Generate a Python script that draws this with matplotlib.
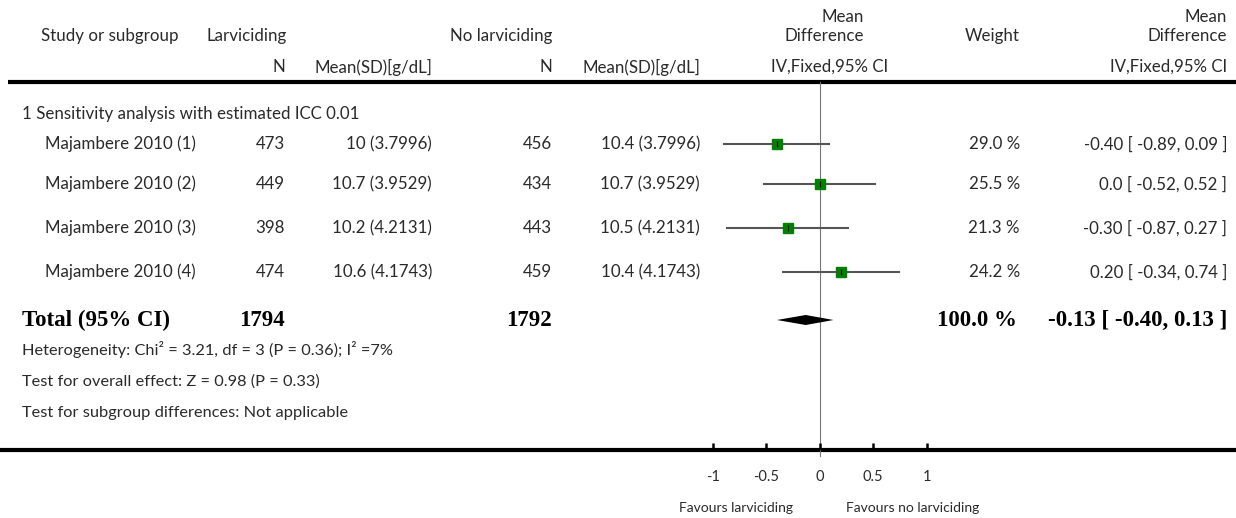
"""
Forest plot: larviciding vs no larviciding, mean difference in haemoglobin
"""

import matplotlib.pyplot as plt
import numpy as np

# data
studies = ['Majambere 2010 (1)', 'Majambere 2010 (2)', 'Majambere 2010 (3)', 'Majambere 2010 (4)']
n_larv = [473, 449, 398, 474]
msd_larv = ['10 (3.7996)', '10.7 (3.9529)', '10.2 (4.2131)', '10.6 (4.1743)']
n_ctrl = [456, 434, 443, 459]
msd_ctrl = ['10.4 (3.7996)', '10.7 (3.9529)', '10.5 (4.2131)', '10.4 (4.1743)']
md = [-0.40, 0.0, -0.30, 0.20]
ci_low = [-0.89, -0.52, -0.87, -0.34]
ci_high = [0.09, 0.52, 0.27, 0.74]
weights = [29.0, 25.5, 21.3, 24.2]
md_labels = ['-0.40 [ -0.89, 0.09 ]', '0.0 [ -0.52, 0.52 ]', '-0.30 [ -0.87, 0.27 ]', '0.20 [ -0.34, 0.74 ]']

total_n_larv = 1794
total_n_ctrl = 1792
total_md = -0.13
total_low = -0.40
total_high = 0.13
total_label = '-0.13 [ -0.40, 0.13 ]'

subgroup = '1 Sensitivity analysis with estimated ICC 0.01'
footnotes = ['Heterogeneity: Chi² = 3.21, df = 3 (P = 0.36); I² =7%',
             'Test for overall effect: Z = 0.98 (P = 0.33)',
             'Test for subgroup differences: Not applicable']
ticks = [-1, -0.5, 0, 0.5, 1]
tick_labels = ['-1', '-0.5', '0', '0.5', '1']

# layout (pixels)
W, H = 1236, 518
row_y = [144, 184, 228, 272]
total_y = 320
foot_y = [350, 382, 413]
top_line_y = 82
bot_line_y = 450
zero_px = 819.6
unit_px = 107.0

FONT = 'Lato'
SERIF = 'Liberation Serif'
TXT = '#2a2a2a'
fs = 12.2

fig = plt.figure(figsize=(W / 100, H / 100), dpi=100)
ax = fig.add_axes([0, 0, 1, 1])
ax.set_xlim(0, W)
ax.set_ylim(H, 0)
ax.axis('off')


def t(x, y, s, ha='left', size=fs, **kw):
    kw.setdefault('family', FONT)
    kw.setdefault('color', TXT)
    ax.text(x, y, s, ha=ha, va='center', fontsize=size, **kw)


# header
t(41, 36, 'Study or subgroup')
t(207, 36, 'Larviciding')
t(552, 36, 'No larviciding', ha='right')
t(864, 17, 'Mean', ha='right')
t(864, 36, 'Difference', ha='right')
t(1020, 36, 'Weight', ha='right')
t(1227, 17, 'Mean', ha='right')
t(1227, 36, 'Difference', ha='right')
t(285, 67, 'N', ha='right')
t(432, 67, 'Mean(SD)[g/dL]', ha='right')
t(552, 67, 'N', ha='right')
t(700, 67, 'Mean(SD)[g/dL]', ha='right')
t(888, 67, 'IV,Fixed,95% CI', ha='right')
t(1227, 67, 'IV,Fixed,95% CI', ha='right')

ax.plot([8, W], [top_line_y, top_line_y], color='black', lw=3, solid_capstyle='butt')
ax.plot([0, W], [bot_line_y, bot_line_y], color='black', lw=3, solid_capstyle='butt')

t(22, 114, subgroup)
for i, y in enumerate(row_y):
    t(45, y, studies[i])
    t(285, y, str(n_larv[i]), ha='right')
    t(432, y, msd_larv[i], ha='right')
    t(552, y, str(n_ctrl[i]), ha='right')
    t(700, y, msd_ctrl[i], ha='right')
    t(1020, y, f'{weights[i]:.1f} %', ha='right')
    t(1227, y, md_labels[i], ha='right')

bold = dict(family=SERIF, weight='bold', color='black')
bsize = 16.5
t(22, total_y, 'Total (95% CI)', size=bsize, **bold)
t(285, total_y, str(total_n_larv), ha='right', size=bsize, **bold)
t(552, total_y, str(total_n_ctrl), ha='right', size=bsize, **bold)
t(1017, total_y, f'{sum(weights):.1f} %', ha='right', size=bsize, **bold)
t(1227, total_y, total_label, ha='right', size=bsize, **bold)

for s, y in zip(footnotes, foot_y):
    t(22, y, s, size=11.8)

# forest panel, x in mean difference units
x0 = -1.3
x1 = 1.3
left = (zero_px + x0 * unit_px) / W
width = (x1 - x0) * unit_px / W
fx = fig.add_axes([left, 0, width, 1])
fx.set_xlim(x0, x1)
fx.set_ylim(H, 0)
fx.axis('off')
fx.patch.set_alpha(0)

fx.plot([0, 0], [top_line_y, bot_line_y + 6], color='#777777', lw=0.8, zorder=1)
for i, y in enumerate(row_y):
    fx.plot([ci_low[i], ci_high[i]], [y, y], color='#555555', lw=1.5, zorder=2)
    side = 2.0 * np.sqrt(weights[i])
    fx.plot(md[i], y, marker='s', ms=side * 0.72, color='#008000', mec='#008000', zorder=3)
    fx.plot(md[i], y, marker='|', ms=5, color='black', mew=0.8, zorder=4)

dh = 5
fx.fill([total_low, total_md, total_high, total_md],
        [total_y, total_y - dh, total_y, total_y + dh], color='black', lw=0, zorder=3)

for tk, lab in zip(ticks, tick_labels):
    fx.plot([tk, tk], [bot_line_y - 7, bot_line_y], color='black', lw=1.8, solid_capstyle='butt')
    fx.text(tk, 477, lab, ha='center', va='center', fontsize=10.5, family=FONT, color=TXT)

fx.text(-0.25, 508, 'Favours larviciding', ha='right', va='center', fontsize=10,
        family=FONT, color=TXT)
fx.text(0.25, 508, 'Favours no larviciding', ha='left', va='center', fontsize=10,
        family=FONT, color=TXT)

plt.savefig('out.png', dpi=100)
